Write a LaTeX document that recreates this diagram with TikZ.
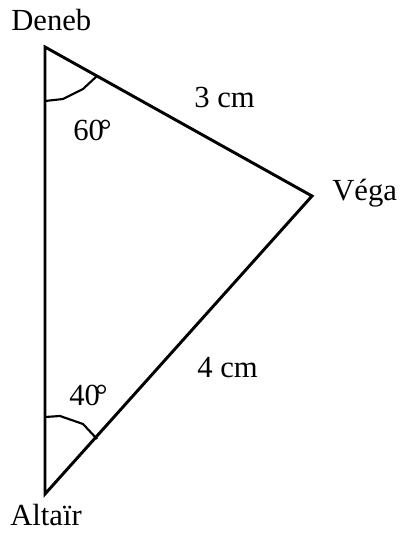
\documentclass[tikz,border=0pt]{standalone}
\usepackage{fontspec}
\setmainfont{Liberation Serif}
\begin{document}
\begin{tikzpicture}[x=0.75pt,y=-0.75pt,
  lbl/.style={anchor=base west,inner sep=0pt,font=\fontsize{23}{27}\selectfont},
  side/.style={line width=2.2pt,line join=miter},
  arcmark/.style={line width=1.6pt}]
\useasboundingbox (0,0) rectangle (401,533);
\coordinate (D) at (45,47);
\coordinate (V) at (312,196);
\coordinate (A) at (45,494);
\draw[side] (D) -- (V) -- (A) -- cycle;
\draw[arcmark] (45,101) -- (63,99) -- (83,89) -- (97,76);
\draw[arcmark] (45,417) -- (60,416) -- (83,424) -- (97,439);
\node[lbl] (deneb) at (11,30) {Deneb};
\node[lbl] (vega) at (332,200) {Véga};
\node[lbl] (altair) at (10,525) {Altaïr};
\node[lbl] (c3) at (194,107) {3 cm};
\node[lbl] (c4) at (197,377) {4 cm};
\node[lbl] (a60) at (73,140) {60\kern-3.5pt°};
\node[lbl] (a40) at (69,405) {40\kern-3.5pt°};
\end{tikzpicture}
\end{document}
